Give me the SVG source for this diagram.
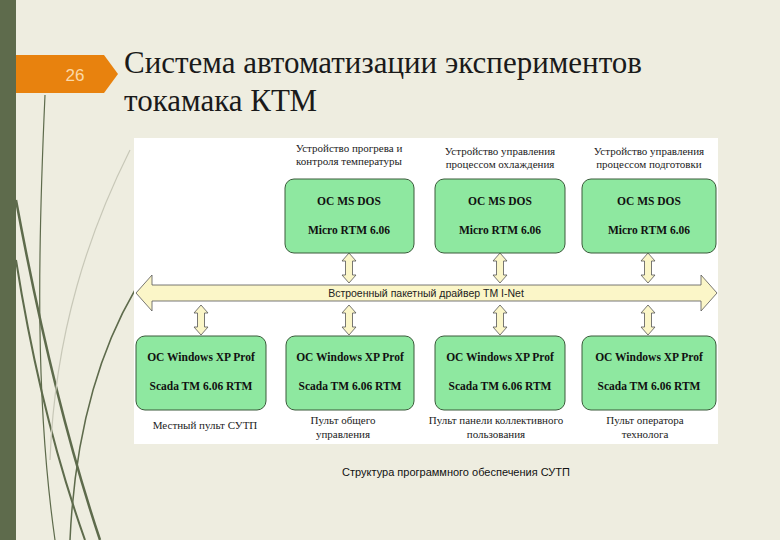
<svg xmlns="http://www.w3.org/2000/svg" width="780" height="540" viewBox="0 0 780 540">
<style>
.box{fill:#8EE8A0;stroke:#3A5A3A;stroke-width:1}
.bt{font-family:"Liberation Serif",serif;font-weight:bold;font-size:11.5px;fill:#111;text-anchor:middle}
.lb{font-family:"Liberation Serif",serif;font-size:11px;fill:#222;text-anchor:middle}
.ttl{font-family:"Liberation Serif",serif;font-size:31px;fill:#1a1a1a}
.sans{font-family:"Liberation Sans",sans-serif}
.dar{fill:#FBF6C8;stroke:#555;stroke-width:0.8}
</style>
<defs>
<path id="vd" d="M0,-15 L7,-7 L3.5,-7 L3.5,7 L7,7 L0,15 L-7,7 L-3.5,7 L-3.5,-7 L-7,-7 Z"/>
</defs>
<rect width="780" height="540" fill="#EEEDE0"/>
<rect width="16" height="540" fill="#5E6B4C"/>
<g fill="none" stroke="#5E6B4C">
<path d="M45,95 C38,250 35,400 55,540" stroke-width="1.2"/>
<path d="M16,200 C40,330 70,450 100,540" stroke-width="2.5"/>
<path d="M16,260 C35,380 60,470 85,540" stroke-width="2"/>
<path d="M135,290 C100,350 75,430 70,540" stroke-width="1.5"/>
<path d="M130,150 C90,230 55,330 50,460" stroke="#C8C8B8" stroke-width="1.2"/>
</g>
<path d="M16,55 L104,55 L118,74 L104,93 L16,93 Z" fill="#E8820E"/>
<text class="sans" x="75" y="81" font-size="17" fill="#FBD9A8" text-anchor="middle">26</text>
<text class="ttl" x="124" y="73">Система автоматизации экспериментов</text>
<text class="ttl" x="124" y="111">токамака КТМ</text>
<rect x="134" y="138" width="584" height="306" fill="#FFFFFF"/>
<g id="connectors">
<path class="dar" d="M136,293 L152,275 L152,285 L701,285 L701,275 L717,293 L701,311 L701,301 L152,301 L152,311 Z"/>
<text class="sans" x="426" y="297" font-size="10.5" fill="#222" text-anchor="middle">Встроенный пакетный драйвер TM I-Net</text>
<use href="#vd" class="dar" x="349" y="268"/>
<use href="#vd" class="dar" x="500" y="268"/>
<use href="#vd" class="dar" x="648" y="268"/>
<use href="#vd" class="dar" x="201" y="320"/>
<use href="#vd" class="dar" x="349" y="320"/>
<use href="#vd" class="dar" x="500" y="320"/>
<use href="#vd" class="dar" x="648" y="320"/>
</g>
<g id="t1"><text class="lb" x="349" y="152">Устройство прогрева и</text><text class="lb" x="349" y="165">контроля температуры</text>
<rect class="box" x="285" y="179" width="129" height="74" rx="9"/><text class="bt" x="349" y="205">OC MS DOS</text><text class="bt" x="349" y="234">Micro RTM 6.06</text></g>
<g id="t2"><text class="lb" x="500" y="155">Устройство управления</text><text class="lb" x="500" y="168">процессом охлаждения</text>
<rect class="box" x="435" y="179" width="130" height="74" rx="9"/><text class="bt" x="500" y="205">OC MS DOS</text><text class="bt" x="500" y="234">Micro RTM 6.06</text></g>
<g id="t3"><text class="lb" x="649" y="155">Устройство управления</text><text class="lb" x="649" y="168">процессом подготовки</text>
<rect class="box" x="582" y="179" width="134" height="74" rx="9"/><text class="bt" x="649" y="205">OC MS DOS</text><text class="bt" x="649" y="234">Micro RTM 6.06</text></g>
<g id="b1"><rect class="box" x="136" y="336" width="130" height="74" rx="9"/><text class="bt" x="201" y="361">OC Windows XP Prof</text><text class="bt" x="201" y="390">Scada TM 6.06 RTM</text>
<text class="lb" x="205" y="429">Местный пульт СУТП</text></g>
<g id="b2"><rect class="box" x="286" y="336" width="128" height="74" rx="9"/><text class="bt" x="350" y="361">OC Windows XP Prof</text><text class="bt" x="350" y="390">Scada TM 6.06 RTM</text>
<text class="lb" x="343" y="424">Пульт общего</text><text class="lb" x="343" y="438">управления</text></g>
<g id="b3"><rect class="box" x="435" y="336" width="130" height="74" rx="9"/><text class="bt" x="500" y="361">OC Windows XP Prof</text><text class="bt" x="500" y="390">Scada TM 6.06 RTM</text>
<text class="lb" x="496" y="424">Пульт панели коллективного</text><text class="lb" x="496" y="438">пользования</text></g>
<g id="b4"><rect class="box" x="582" y="336" width="134" height="74" rx="9"/><text class="bt" x="649" y="361">OC Windows XP Prof</text><text class="bt" x="649" y="390">Scada TM 6.06 RTM</text>
<text class="lb" x="645" y="424">Пульт оператора</text><text class="lb" x="645" y="438">технолога</text></g>
<text class="sans" x="456" y="476" font-size="11" fill="#111" text-anchor="middle">Структура программного обеспечения СУТП</text>
</svg>
